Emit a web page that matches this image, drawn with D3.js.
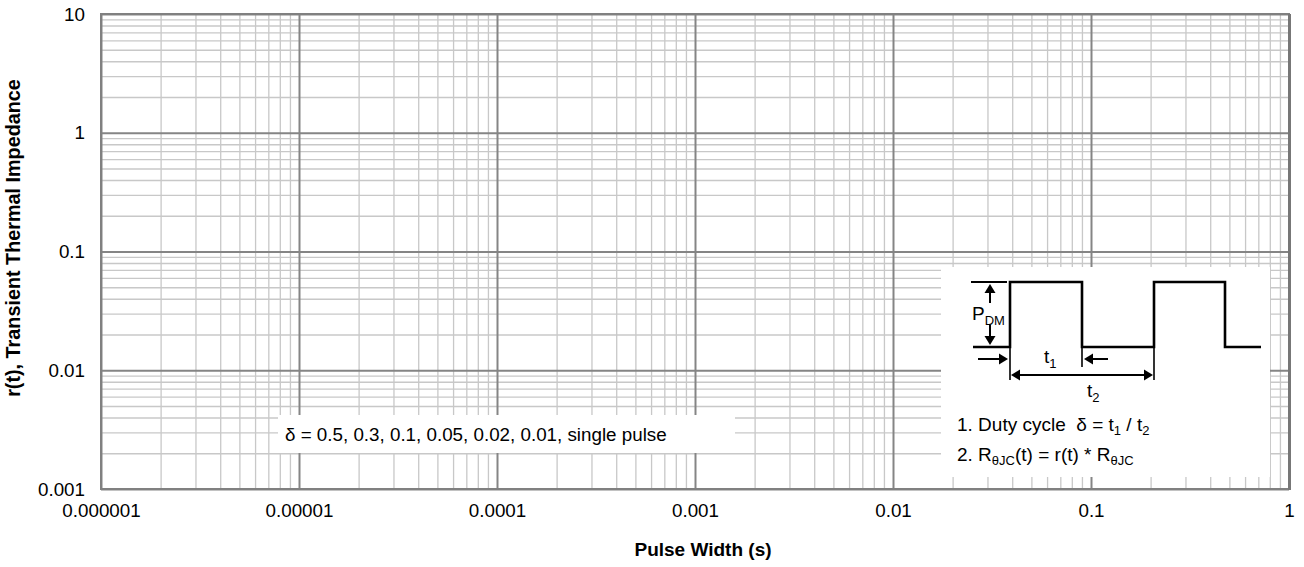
<!DOCTYPE html>
<html>
<head>
<meta charset="utf-8">
<script src="https://cdn.jsdelivr.net/npm/d3@7"></script>
<style>
body { margin: 0; background: #fff; }
text { font-family: Arial, "Liberation Sans", sans-serif; fill: #000; }
</style>
</head>
<body>
<svg id="chart"></svg>
<script>
// axis values and labels
const xTicks = [1e-6, 1e-5, 1e-4, 1e-3, 1e-2, 1e-1, 1]
const xLabels = ['0.000001', '0.00001', '0.0001', '0.001', '0.01', '0.1', '1']
const yTicks = [0.001, 0.01, 0.1, 1, 10]
const yLabels = ['0.001', '0.01', '0.1', '1', '10']
const minorSteps = [2, 3, 4, 5, 6, 7, 8, 9]

const xTitle = 'Pulse Width (s)'
const yTitle = 'r(t), Transient Thermal Impedance'
const dutyCycles = ['0.5', '0.3', '0.1', '0.05', '0.02', '0.01', 'single pulse']

const width = 1304
const height = 567
const margin = {top: 14, right: 15, bottom: 78, left: 101}

const svg = d3.select('#chart')
.attr('width', width)
.attr('height', height)

const x = d3.scaleLog()
.domain([xTicks[0], xTicks[xTicks.length - 1]])
.range([margin.left, width - margin.right])

const y = d3.scaleLog()
.domain([yTicks[0], yTicks[yTicks.length - 1]])
.range([height - margin.bottom, margin.top])

const xMinor = xTicks.slice(0, -1).flatMap(d => minorSteps.map(m => d * m))
const yMinor = yTicks.slice(0, -1).flatMap(d => minorSteps.map(m => d * m))

const plotW = x.range()[1] - x.range()[0]
const plotH = y.range()[0] - y.range()[1]

///-------GRID------------

const grid = svg.append('g')

grid.append('g')
.attr('transform', `translate(0,${y.range()[0]})`)
.call(d3.axisBottom(x).tickValues(xMinor).tickSize(-plotH).tickFormat(''))
.call(g => g.select('.domain').remove())
.call(g => g.selectAll('line').attr('stroke', '#c8c8c8').attr('stroke-width', 1.3))

grid.append('g')
.attr('transform', `translate(${x.range()[0]},0)`)
.call(d3.axisLeft(y).tickValues(yMinor).tickSize(-plotW).tickFormat(''))
.call(g => g.select('.domain').remove())
.call(g => g.selectAll('line').attr('stroke', '#c8c8c8').attr('stroke-width', 1.3))

grid.append('g')
.attr('transform', `translate(0,${y.range()[0]})`)
.call(d3.axisBottom(x).tickValues(xTicks).tickSize(-plotH).tickFormat(''))
.call(g => g.select('.domain').remove())
.call(g => g.selectAll('line').attr('stroke', '#858585').attr('stroke-width', 2))

grid.append('g')
.attr('transform', `translate(${x.range()[0]},0)`)
.call(d3.axisLeft(y).tickValues(yTicks).tickSize(-plotW).tickFormat(''))
.call(g => g.select('.domain').remove())
.call(g => g.selectAll('line').attr('stroke', '#858585').attr('stroke-width', 2))

// frame
svg.append('rect')
.attr('x', x.range()[0])
.attr('y', y.range()[1])
.attr('width', plotW)
.attr('height', plotH)
.attr('fill', 'none')
.attr('stroke', '#808080')
.attr('stroke-width', 2)

svg.append('line')
.attr('x1', x.range()[1] + 0.5).attr('x2', x.range()[1] + 0.5)
.attr('y1', y.range()[1]).attr('y2', y.range()[0] + 1)
.attr('stroke', '#777')
.attr('stroke-width', 3)

///-------TICK LABELS------------

const xAxis = svg.append('g')
.attr('transform', `translate(0,${y.range()[0]})`)
.call(d3.axisBottom(x).tickValues(xTicks).tickSize(0).tickPadding(0).tickFormat((d, i) => xLabels[i]))
.call(g => g.select('.domain').remove())

xAxis.selectAll('text')
.attr('y', 27.5)
.attr('dy', 0)
.style('font-size', '18.8px')
.style('font-family', 'Arial, "Liberation Sans", sans-serif')
.attr('fill', '#000')

const yAxis = svg.append('g')
.attr('transform', `translate(${x.range()[0]},0)`)
.call(d3.axisLeft(y).tickValues(yTicks).tickSize(0).tickPadding(16).tickFormat((d, i) => yLabels[i]))
.call(g => g.select('.domain').remove())

yAxis.selectAll('text')
.style('font-size', '18.8px')
.style('font-family', 'Arial, "Liberation Sans", sans-serif')
.attr('fill', '#000')

///-------TITLES------------

svg.append('text')
.attr('x', 703)
.attr('y', 556)
.attr('text-anchor', 'middle')
.style('font-size', '19px')
.style('font-weight', 'bold')
.text(xTitle)

svg.append('text')
.attr('transform', `translate(20,238) rotate(-90)`)
.attr('text-anchor', 'middle')
.style('font-size', '19.8px')
.style('font-weight', 'bold')
.text(yTitle)

///-------DUTY CYCLE BOX------------

svg.append('rect')
.attr('x', 278)
.attr('y', 415)
.attr('width', 457)
.attr('height', 38)
.attr('fill', '#fff')

svg.append('text')
.attr('x', 285)
.attr('y', 441)
.style('font-size', '18.8px')
.text('δ = ' + dutyCycles.join(', '))

///-------PULSE DIAGRAM------------

const inset = svg.append('g')
.attr('transform', 'translate(941,267)')

inset.append('rect')
.attr('width', 329)
.attr('height', 210)
.attr('fill', '#fff')

const hi = 15, lo = 80

const wave = [[32, lo], [69, lo], [69, hi], [141, hi], [141, lo], [213, lo], [213, hi], [284, hi], [284, lo], [320, lo]]

inset.append('path')
.attr('d', d3.line()(wave))
.attr('fill', 'none')
.attr('stroke', '#000')
.attr('stroke-width', 2.6)

const seg = (x1, y1, x2, y2, w) => inset.append('line')
.attr('x1', x1).attr('y1', y1).attr('x2', x2).attr('y2', y2)
.attr('stroke', '#000').attr('stroke-width', w)

const head = (tx, ty, dir) => {
	// dir: 'up','down','left','right'
	const L = 9, W = 5.5
	let pts
	if (dir === 'up') pts = [[tx, ty], [tx - W, ty + L], [tx + W, ty + L]]
	if (dir === 'down') pts = [[tx, ty], [tx - W, ty - L], [tx + W, ty - L]]
	if (dir === 'right') pts = [[tx, ty], [tx - L, ty - W], [tx - L, ty + W]]
	if (dir === 'left') pts = [[tx, ty], [tx + L, ty - W], [tx + L, ty + W]]
	inset.append('path').attr('d', d3.line()(pts) + 'Z').attr('fill', '#000')
}

// top reference line for P_DM
seg(30, hi, 66, hi, 2.2)

// P_DM arrows
seg(49, 36, 49, hi + 8, 2)
head(49, hi + 2, 'up')
seg(49, 58, 49, lo - 8, 2)
head(49, lo - 2, 'down')

// extension lines
seg(69, lo, 69, 113, 1.6)
seg(141, lo, 141, 100, 1.6)
seg(213, lo, 213, 113, 1.6)

// t1 arrows
seg(37, 92, 60, 92, 2)
head(67, 92, 'right')
seg(167, 92, 150, 92, 2)
head(143, 92, 'left')

// t2 double arrow
seg(78, 108, 204, 108, 2)
head(70, 108, 'left')
head(212, 108, 'right')

const sub = (sel, base, s, size) => {
	sel.append('tspan').text(base)
	sel.append('tspan').attr('dy', 5).style('font-size', size + 'px').text(s)
	return sel
}

const pText = inset.append('text').attr('x', 31).attr('y', 53).style('font-size', '19px')
sub(pText, 'P', 'DM', 13)

const t1Text = inset.append('text').attr('x', 103).attr('y', 96).style('font-size', '19px')
sub(t1Text, 't', '1', 13)

const t2Text = inset.append('text').attr('x', 146).attr('y', 130).style('font-size', '19px')
sub(t2Text, 't', '2', 13)

const line1 = inset.append('text').attr('x', 16).attr('y', 164).style('font-size', '19px').style('white-space', 'pre')
line1.append('tspan').text('1. Duty cycle  δ = t')
line1.append('tspan').attr('dy', 4).style('font-size', '13px').text('1')
line1.append('tspan').attr('dy', -4).text(' / t')
line1.append('tspan').attr('dy', 4).style('font-size', '13px').text('2')

const line2 = inset.append('text').attr('x', 16).attr('y', 194).style('font-size', '19px')
line2.append('tspan').text('2. R')
line2.append('tspan').attr('dy', 4).style('font-size', '13px').text('θJC')
line2.append('tspan').attr('dy', -4).text('(t) = r(t) * R')
line2.append('tspan').attr('dy', 4).style('font-size', '13px').text('θJC')
</script>
</body>
</html>
